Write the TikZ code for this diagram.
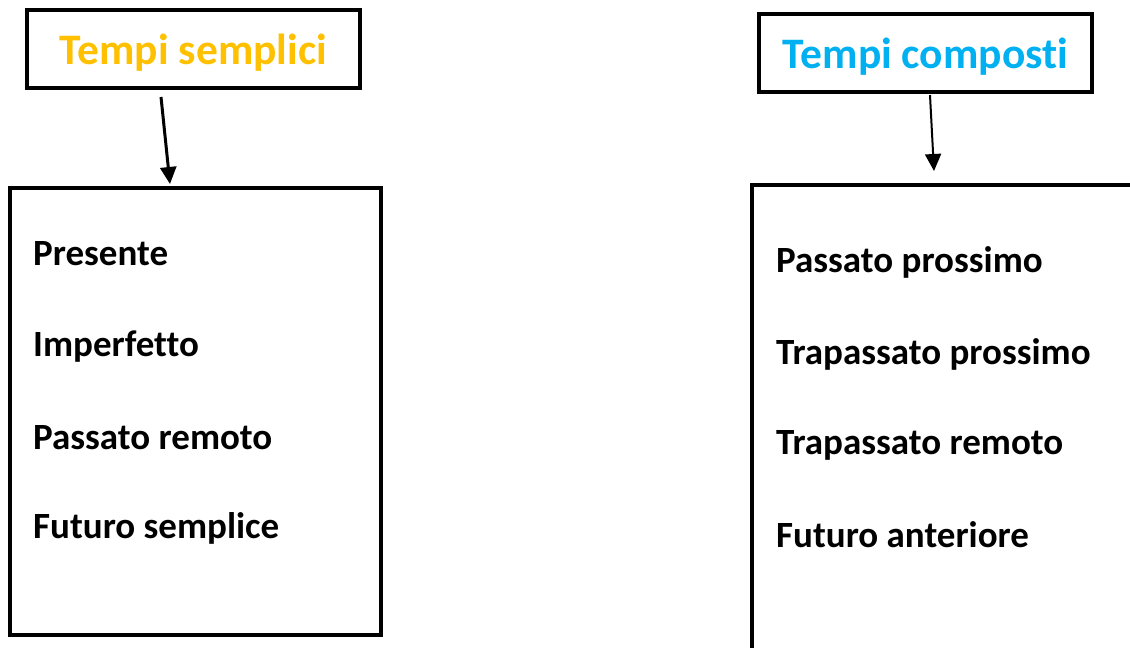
\documentclass[tikz,border=0pt]{standalone}
\usepackage{fontspec}
\setmainfont[Ligatures=NoCommon]{Carlito}
\usetikzlibrary{arrows.meta}
\definecolor{giallo}{HTML}{FFC000}
\definecolor{azzurro}{HTML}{00B0F0}
\tikzset{
  titolo/.style={draw, line width=3.5pt, minimum width=333pt, minimum height=78pt, text depth=0pt, font=\bfseries\fontsize{43.5}{50}\selectfont},
  lista/.style={draw, line width=4pt},
  voce/.style={anchor=west, inner sep=0pt, font=\bfseries\fontsize{37}{42}\selectfont},
  freccia/.style={-{Triangle[width=16pt,length=17pt]}}
}
\begin{document}
\begin{tikzpicture}[x=1pt,y=-1pt]
\useasboundingbox (0,0) rectangle (1130,648);
\clip (0,0) rectangle (1130,648);
% titoli
\node[titolo, text=giallo] (semplici) at (193.5,49) {Tempi semplici};
\node[titolo, text=azzurro] (composti) at (925.5,53) {Tempi composti};
% riquadri
\draw[lista] (10,188) rectangle (381,635);
\draw[lista] (752,185) rectangle (1160,680);
% frecce
\coordinate (s1) at (161,97);
\coordinate (s2) at (170,184);
\coordinate (c1) at (930,95);
\coordinate (c2) at (934,171);
\draw[freccia, line width=3pt] (s1) -- (s2);
\draw[freccia, line width=2pt] (c1) -- (c2);
% tempi semplici
\node[voce] (presente) at (33,254) {Presente};
\node[voce] (imperfetto) at (33,347) {Imperfetto};
\node[voce] (remoto) at (33,438) {Passato remoto};
\node[voce] (futuro) at (33,528) {Futuro semplice};
% tempi composti
\node[voce] (pprossimo) at (776,262) {Passato prossimo};
\node[voce] (tprossimo) at (776,354) {Trapassato prossimo};
\node[voce] (tremoto) at (776,445) {Trapassato remoto};
\node[voce] (anteriore) at (776,535) {Futuro anteriore};
\end{tikzpicture}
\end{document}
